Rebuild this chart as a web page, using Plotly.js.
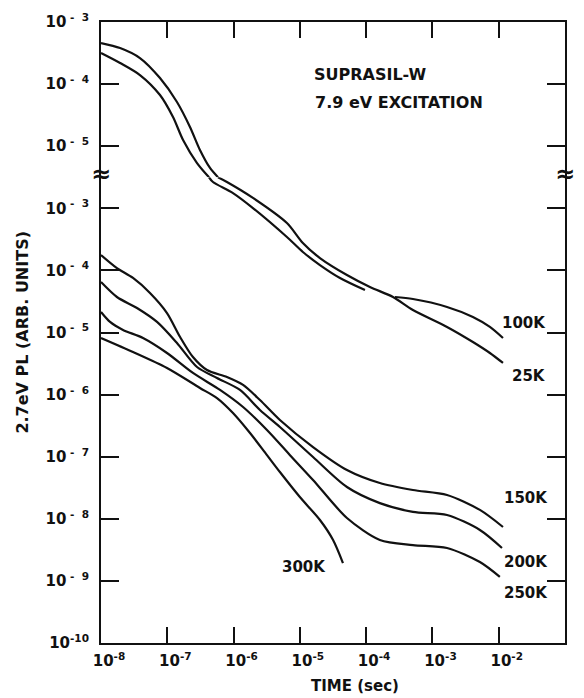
<!DOCTYPE html>
<html>
<head>
<meta charset="utf-8">
<script src="https://cdn.plot.ly/plotly-3.0.1.min.js"></script>
<style>
  html, body { margin: 0; padding: 0; background: #fff; }
  #chart { width: 584px; height: 698px; }
</style>
</head>
<body>
<div id="chart"></div>
<script>
// 2.7 eV photoluminescence decay of Suprasil-W under 7.9 eV excitation.
// The upper pair (25 K, 100 K) starts on the upper scale above the axis break
// and continues on the lower scale below it.

// 25 K - part on the upper scale
const time25Upper = [1e-8, 1.94e-8, 3.87e-8, 7.76e-8, 1.40e-7, 2.20e-7, 3.11e-7, 4.41e-7, 5.82e-7];
const pl25Upper   = [4.59e-4, 3.81e-4, 2.63e-4, 1.25e-4, 5.15e-5, 2.04e-5, 8.69e-6, 4.46e-6, 3.16e-6];
// 25 K - part on the lower scale
const time25Lower = [5.82e-7, 7.94e-7, 1.96e-6, 6.38e-6, 1.11e-5, 2.01e-5, 5.13e-5, 1.14e-4, 2.54e-4, 5.08e-4, 1.66e-3, 4.08e-3, 7.36e-3, 1.16e-2];
const pl25Lower   = [3.16e-3, 2.65e-3, 1.47e-3, 5.79e-4, 2.76e-4, 1.58e-4, 8.43e-5, 5.41e-5, 3.73e-5, 2.30e-5, 1.23e-5, 7.03e-6, 4.68e-6, 3.23e-6];

// 100 K - part on the upper scale
const time100Upper = [1e-8, 1.94e-8, 3.87e-8, 7.76e-8, 1.22e-7, 1.73e-7, 2.81e-7, 4.26e-7];
const pl100Upper   = [3.17e-4, 2.19e-4, 1.40e-4, 6.67e-5, 2.95e-5, 1.26e-5, 5.36e-6, 3.16e-6];
// 100 K - early part on the lower scale
const time100Lower = [4.26e-7, 4.89e-7, 9.8e-7, 1.96e-6, 6.38e-6, 1.11e-5, 2.01e-5, 4.03e-5, 9.6e-5];
const pl100Lower   = [3.16e-3, 2.65e-3, 1.76e-3, 1.01e-3, 3.45e-4, 1.98e-4, 1.22e-4, 7.55e-5, 4.83e-5];
// 100 K - late part on the lower scale
const time100Late = [2.72e-4, 5.08e-4, 1.66e-3, 4.08e-3, 7.36e-3, 1.16e-2];
const pl100Late   = [3.73e-5, 3.46e-5, 2.58e-5, 1.78e-5, 1.23e-5, 8.15e-6];

// 150 K
const time150 = [1e-8, 1.74e-8, 3.04e-8, 5.48e-8, 9.9e-8, 1.56e-7, 2.44e-7, 3.97e-7, 7.94e-7, 1.39e-6, 2.50e-6, 5.0e-6, 1.58e-5, 5.13e-5, 1.61e-4, 5.08e-4, 1.66e-3, 5.2e-3, 1.16e-2];
const pl150   = [1.77e-4, 1.09e-4, 7.55e-5, 4.33e-5, 2.06e-5, 8.47e-6, 4.03e-6, 2.49e-6, 1.92e-6, 1.43e-6, 8.18e-7, 3.90e-7, 1.43e-7, 6.11e-8, 3.77e-8, 2.91e-8, 2.42e-8, 1.39e-8, 7.38e-9];

// 200 K
const time200 = [1e-8, 1.74e-8, 3.49e-8, 7.0e-8, 1.40e-7, 2.81e-7, 5.62e-7, 1.25e-6, 2.50e-6, 5.0e-6, 1.58e-5, 5.13e-5, 1.61e-4, 5.08e-4, 1.66e-3, 5.2e-3, 1.12e-2];
const pl200   = [6.50e-5, 3.73e-5, 2.48e-5, 1.48e-5, 6.78e-6, 2.78e-6, 1.85e-6, 1.19e-6, 5.65e-7, 3.01e-7, 9.89e-8, 3.25e-8, 1.79e-8, 1.29e-8, 1.15e-8, 6.61e-9, 3.39e-9];

// 250 K
const time250 = [1e-8, 1.37e-8, 2.15e-8, 4.30e-8, 9.9e-8, 2.44e-7, 6.24e-7, 1.39e-6, 3.19e-6, 7.1e-6, 1.58e-5, 5.13e-5, 1.61e-4, 5.08e-4, 1.66e-3, 5.2e-3, 1.04e-2];
const pl250   = [2.14e-5, 1.48e-5, 1.10e-5, 8.15e-6, 4.68e-6, 2.23e-6, 1.19e-6, 6.31e-7, 2.69e-7, 1.06e-7, 4.22e-8, 1.03e-8, 4.56e-9, 3.78e-9, 3.39e-9, 2.01e-9, 1.16e-9];

// 300 K
const time300 = [1e-8, 3.04e-8, 9.9e-8, 3.11e-7, 5.62e-7, 9.8e-7, 1.77e-6, 3.19e-6, 5.0e-6, 1.0e-5, 2.01e-5, 3.17e-5, 4.47e-5];
const pl300   = [8.15e-6, 4.85e-6, 2.68e-6, 1.28e-6, 8.81e-7, 5.06e-7, 2.41e-7, 1.06e-7, 5.66e-8, 2.24e-8, 9.57e-9, 4.56e-9, 1.94e-9];

// Tick labels
const timeTicks = [1e-8, 1e-7, 1e-6, 1e-5, 1e-4, 1e-3, 1e-2, 1e-1];
const timeTickText = ['10<sup>-8</sup>', '10<sup>-7</sup>', '10<sup>-6</sup>', '10<sup>-5</sup>',
                      '10<sup>-4</sup>', '10<sup>-3</sup>', '10<sup>-2</sup>', '10<sup>-1</sup>'];
const lowerTicks = [1e-10, 1e-9, 1e-8, 1e-7, 1e-6, 1e-5, 1e-4, 1e-3];
const lowerTickText = ['10<sup>-10</sup>', '10<sup> -  9</sup>', '10<sup> -  8</sup>', '10<sup> -  7</sup>',
                       '10<sup> -  6</sup>', '10<sup> -  5</sup>', '10<sup> -  4</sup>', '10<sup> -  3</sup>'];
const upperTicks = [1e-5, 1e-4, 1e-3];
const upperTickText = ['10<sup> -  5</sup>', '10<sup> -  4</sup>', '10<sup> -  3</sup>'];

const ink = '#111';
const FONT = 'DejaVu Sans, Liberation Sans, sans-serif';

function curve(x, y, onUpper) {
  return {
    type: 'scatter', mode: 'lines', x: x, y: y,
    xaxis: onUpper ? 'x2' : 'x', yaxis: onUpper ? 'y2' : 'y',
    line: { color: ink, width: 2.2, shape: 'spline', smoothing: 0.8 },
    hoverinfo: 'skip'
  };
}

const traces = [
  curve(time25Upper, pl25Upper, true),
  curve(time25Lower, pl25Lower, false),
  curve(time100Upper, pl100Upper, true),
  curve(time100Lower, pl100Lower, false),
  curve(time100Late, pl100Late, false),
  curve(time150, pl150, false),
  curve(time200, pl200, false),
  curve(time250, pl250, false),
  curve(time300, pl300, false)
];

const tickFont = { family: FONT, size: 15, color: ink, weight: 'bold' };

const axisStyle = {
  type: 'log', showgrid: false, zeroline: false,
  showline: true, linecolor: ink, linewidth: 2,
  ticks: 'inside', tickcolor: ink, tickwidth: 2,
  tickfont: tickFont
};

function label(text, x, y, opts) {
  return Object.assign({
    xref: 'paper', yref: 'paper', x: x, y: y, text: text, showarrow: false,
    xanchor: 'left', yanchor: 'middle',
    font: { family: FONT, size: 15, color: ink, weight: 'bold' }
  }, opts || {});
}

const bigFont = { family: FONT, size: 16, color: ink, weight: 'bold' };
const breakFont = { family: FONT, size: 24, color: ink, weight: 'bold' };

const layout = {
  width: 584, height: 698,
  margin: { l: 101, r: 19, t: 22, b: 55 },
  paper_bgcolor: '#fff', plot_bgcolor: '#fff',
  showlegend: false,
  xaxis: Object.assign({}, axisStyle, {
    range: [-8, -1], anchor: 'y', domain: [0, 1],
    tickvals: timeTicks, ticktext: timeTickText, ticklen: 16,
    ticklabelshift: 8, ticklabelstandoff: 3
  }),
  xaxis2: Object.assign({}, axisStyle, {
    range: [-8, -1], anchor: 'y2', side: 'top', matches: 'x',
    tickvals: timeTicks, ticklen: 16, showticklabels: false
  }),
  yaxis: Object.assign({}, axisStyle, {
    range: [-10, -2.5], domain: [0, 0.75], anchor: 'x',
    tickvals: lowerTicks, ticktext: lowerTickText, ticklen: 18,
    mirror: 'ticks', ticklabelstandoff: 7
  }),
  yaxis2: Object.assign({}, axisStyle, {
    range: [-5.5, -3], domain: [0.75, 1], anchor: 'x2',
    tickvals: upperTicks, ticktext: upperTickText, ticklen: 18,
    mirror: 'ticks', ticklabelstandoff: 7
  }),
  annotations: [
    // axis break marks
    label('≈', 0, 0.755, { xanchor: 'center', font: breakFont }),
    label('≈', 1, 0.755, { xanchor: 'center', font: breakFont }),
    // sample and excitation
    label('SUPRASIL-W', 0.455, 0.915, { font: bigFont }),
    label('7.9 eV EXCITATION', 0.457, 0.871, { font: bigFont }),
    // temperatures
    label('100K', 0.860, 0.515),
    label('25K', 0.881, 0.430),
    label('150K', 0.864, 0.2335),
    label('200K', 0.864, 0.130),
    label('250K', 0.864, 0.0805),
    label('300K', 0.386, 0.122),
    // axis titles
    label('2.7eV PL (ARB. UNITS)', -0.170, 0.5, { xanchor: 'center', textangle: -90, font: bigFont }),
    label('TIME (sec)', 0.547, -0.070, { xanchor: 'center', font: { family: FONT, size: 15, color: ink, weight: 'bold' } })
  ]
};

Plotly.newPlot('chart', traces, layout, { staticPlot: true, displayModeBar: false });
</script>
</body>
</html>
